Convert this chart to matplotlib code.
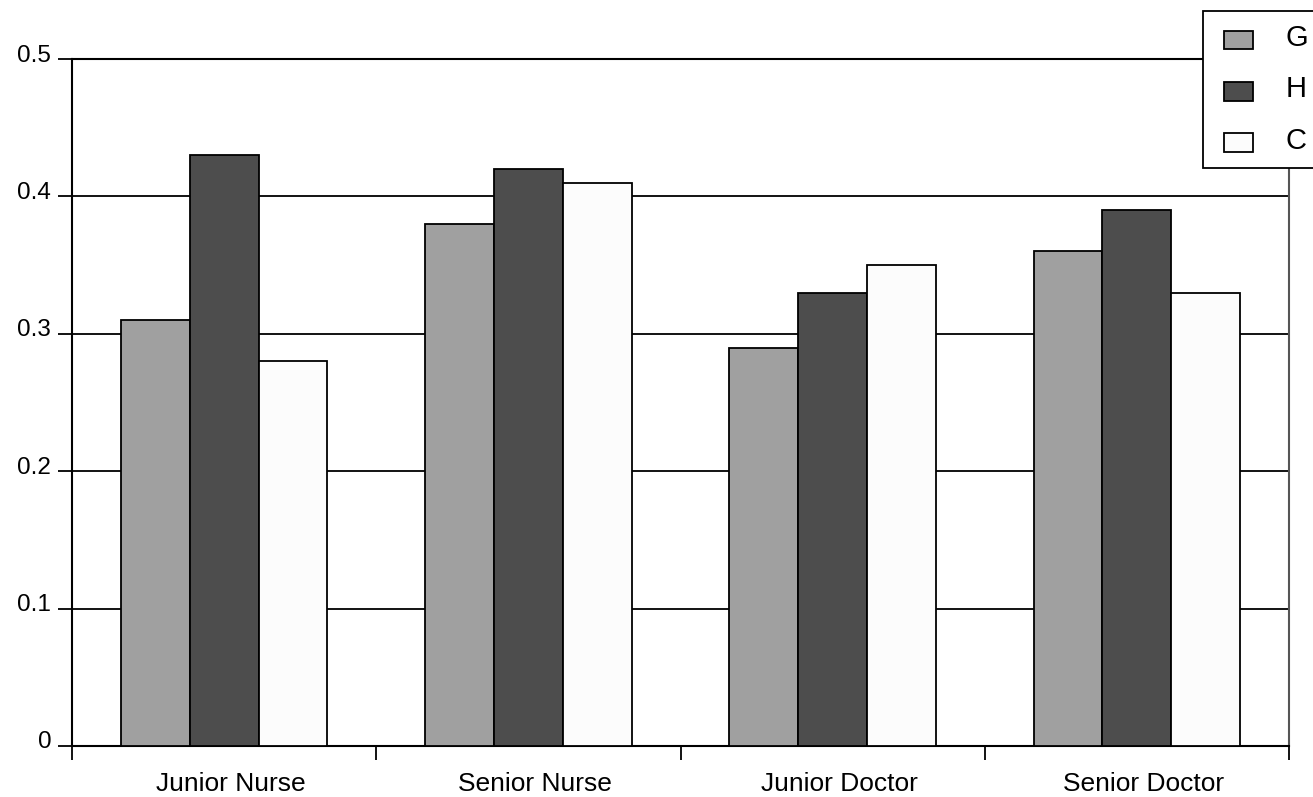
import numpy as np
from matplotlib import pyplot as plt
from matplotlib.transforms import ScaledTranslation
from matplotlib.patches import Rectangle
from matplotlib.container import BarContainer
from matplotlib.legend_handler import HandlerPatch

plt.rcParams['font.family'] = ['Liberation Sans', 'DejaVu Sans']

categories = ['Junior Nurse', 'Senior Nurse', 'Junior Doctor', 'Senior Doctor']
series = ['G', 'H', 'C']
values_g = [0.31, 0.38, 0.29, 0.36]
values_h = [0.43, 0.42, 0.33, 0.39]
values_c = [0.28, 0.41, 0.35, 0.33]
colors = ['#a0a0a0', '#4d4d4d', '#fcfcfc']

fig = plt.figure(figsize=(13.13, 7.97), dpi=100)
ax = fig.add_axes([72/1313, 1-746/797, (1289-72)/1313, (746-59)/797])

x = np.arange(len(categories)) + 0.5
width = 0.226
for i, vals in enumerate([values_g, values_h, values_c]):
    ax.bar(x + (i-1)*width, vals, width, color=colors[i], edgecolor='black',
           linewidth=1.3, label=series[i], zorder=3)

# grid lines
for yv in [0.1, 0.2, 0.3, 0.4]:
    ax.axhline(yv, color='black', linewidth=1.3, zorder=1)

ax.set_xlim(0, len(categories))
ax.set_ylim(0, 0.5)
ax.set_yticks([0, 0.1, 0.2, 0.3, 0.4, 0.5])
ax.set_yticklabels(['0', '0.1', '0.2', '0.3', '0.4', '0.5'])
ax.set_xticks(np.arange(len(categories)+1))
ax.set_xticklabels([])
ax.set_xticks(x, minor=True)
ax.set_xticklabels(categories, minor=True)
ax.tick_params(axis='x', which='minor', length=0, pad=19, labelsize=19)
ax.tick_params(axis='x', which='major', length=10, width=1.3, direction='out')
ax.tick_params(axis='y', length=10, width=1.3, direction='out', labelsize=17.5, pad=5)

# labels sit slightly off their ticks in the original
for lab in ax.get_yticklabels():
    lab.set_transform(lab.get_transform() + ScaledTranslation(0, 6/100, fig.dpi_scale_trans))
for lab in ax.get_xticklabels(minor=True):
    lab.set_transform(lab.get_transform() + ScaledTranslation(7/100, 0, fig.dpi_scale_trans))

for side in ['left', 'bottom', 'top']:
    ax.spines[side].set_linewidth(1.5)
ax.spines['right'].set_color('#555555')
ax.spines['right'].set_linewidth(1.5)

# legend swatches: pushed right and a bit down inside their handle box
def swatch(legend, orig_handle, xdescent, ydescent, width, height, fontsize):
    dx = 6.0   # points
    dy = 3.0
    return Rectangle((-xdescent + dx, -ydescent - dy), width - dx, height)

def first_bar(tgt, src):
    tgt.update_from(src.patches[0])

leg = fig.legend(loc='upper left', bbox_to_anchor=(1203/1313, 1-11/797),
                 bbox_transform=fig.transFigure, borderaxespad=0,
                 fontsize=21, handlelength=1.28, handleheight=0.6,
                 handletextpad=1.1, borderpad=0.45, labelspacing=0.8,
                 fancybox=False, edgecolor='black', framealpha=1,
                 handler_map={BarContainer: HandlerPatch(patch_func=swatch,
                                                         update_func=first_bar)})
leg.get_frame().set_linewidth(1.3)

plt.savefig('out.png', dpi=100)
